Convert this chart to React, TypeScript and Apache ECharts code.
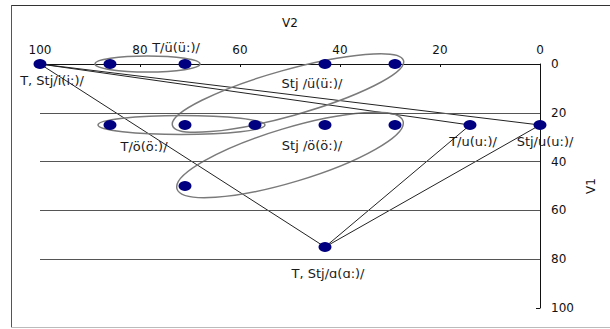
import React, { useEffect, useRef } from "react";
import * as echarts from "echarts";

// ---- data ----
const v2Ticks = [0, 20, 40, 60, 80, 100];
const v1Ticks = [0, 20, 40, 60, 80, 100];
const gridV1 = [20, 40, 60, 80];

const pointV2 = [100, 86, 71, 43, 29, 86, 71, 57, 43, 29, 14, 0, 71, 43];
const pointV1 = [0, 0, 0, 0, 0, 25, 25, 25, 25, 25, 25, 25, 50, 75];
const pointLabels = [
  "T, Stj/i(i:)/", "", "T/ü(ü:)/", "Stj /ü(ü:)/", "",
  "", "T/ö(ö:)/", "", "Stj /ö(ö:)/", "", "T/u(u:)/", "Stj/u(u:)/",
  "", "T, Stj/ɑ(ɑ:)/",
];

// connecting path: a -> i -> u(T) -> a -> u(Stj) -> i
const lineV2 = [43, 100, 14, 43, 0, 100];
const lineV1 = [75, 0, 25, 75, 25, 0];

// group ellipses: ends of major axis [V2a, V1a, V2b, V1b]
const ellipseV2a = [89, 73.5, 88.4, 72.6];
const ellipseV1a = [0, 25.2, 25, 51.2];
const ellipseV2b = [68, 27.3, 55, 27.4];
const ellipseV1b = [0, -1.4, 25, 23.4];

// ---- styles ----
const ellipseMinorPx = [8, 23, 9.5, 27];
const labelPositions = ["bottom", "", "top", "bottom", "", "", "bottom", "", "bottom", "", "bottom", "bottom", "", "bottom"];
const labelOffsets: number[][] = [
  [12, 0], [0, 0], [-9, 0], [-13, 3], [0, 0],
  [0, 0], [-41, 5], [0, 0], [-13, 4], [0, 0], [3, 0], [5, 0],
  [0, 0], [3, 10],
];
const FONT = "DejaVu Sans";

export default function App() {
  const ref = useRef<HTMLDivElement>(null);
  useEffect(() => {
    const chart = echarts.init(ref.current!, null, { renderer: "svg" });
    const scatterData = pointV2.map((x, i) => ({
      value: [x, pointV1[i]],
      label: pointLabels[i]
        ? {
            show: true,
            formatter: pointLabels[i],
            position: labelPositions[i] as any,
            offset: labelOffsets[i],
            distance: 5,
            color: "#1a1a1a",
            fontSize: 13,
            fontFamily: FONT,
          }
        : { show: false },
    }));
    const ellipseData = ellipseV2a.map((v, i) => [v, ellipseV1a[i], ellipseV2b[i], ellipseV1b[i]]);
    const option: any = {
      animation: false,
      backgroundColor: "#ffffff",
      textStyle: { fontFamily: FONT },
      grid: { left: 40, top: 64, width: 500, height: 244, containLabel: false },
      xAxis: {
        type: "value",
        position: "top",
        inverse: true,
        min: v2Ticks[0],
        max: v2Ticks[v2Ticks.length - 1],
        interval: 20,
        name: "V2",
        nameLocation: "middle",
        nameGap: 35,
        nameTextStyle: { fontSize: 12, color: "#111", fontFamily: FONT },
        axisLine: { show: true, onZero: false, lineStyle: { color: "#111", width: 1 } },
        axisTick: { show: true, inside: true, length: 3, lineStyle: { color: "#111" } },
        axisLabel: { margin: 8, fontSize: 12, color: "#111", fontFamily: FONT },
        splitLine: { show: false },
      },
      yAxis: {
        type: "value",
        position: "right",
        inverse: true,
        min: v1Ticks[0],
        max: v1Ticks[v1Ticks.length - 1],
        interval: 20,
        name: "V1",
        nameLocation: "middle",
        nameGap: 42,
        nameTextStyle: { fontSize: 12, color: "#111", fontFamily: FONT },
        axisLine: { show: true, onZero: false, lineStyle: { color: "#111", width: 1 } },
        axisTick: { show: true, inside: true, length: 4, lineStyle: { color: "#111" } },
        axisLabel: { margin: 11, fontSize: 12, color: "#111", fontFamily: FONT },
        splitLine: { show: false },
      },
      graphic: [
        { type: "line", shape: { x1: 11, y1: 5.5, x2: 610, y2: 5.5 }, style: { stroke: "#333", lineWidth: 1 } },
        { type: "line", shape: { x1: 11.5, y1: 5, x2: 11.5, y2: 328 }, style: { stroke: "#555", lineWidth: 1 } },
        { type: "line", shape: { x1: 11, y1: 327.5, x2: 610, y2: 327.5 }, style: { stroke: "#bbb", lineWidth: 1 } },
      ],
      series: [
        {
          type: "line",
          data: lineV2.map((x, i) => [x, lineV1[i]]),
          symbol: "none",
          clip: false,
          silent: true,
          lineStyle: { color: "#222", width: 1 },
          markLine: {
            silent: true,
            symbol: ["none", "none"],
            label: { show: false },
            lineStyle: { type: "solid", color: "#555", width: 1 },
            data: gridV1.map((v) => ({ yAxis: v })),
          },
          z: 2,
        },
        {
          type: "custom",
          clip: false,
          silent: true,
          data: ellipseData,
          renderItem: (params: any, api: any) => {
            const a = api.coord([api.value(0), api.value(1)]);
            const b = api.coord([api.value(2), api.value(3)]);
            const cx = (a[0] + b[0]) / 2;
            const cy = (a[1] + b[1]) / 2;
            const dx = b[0] - a[0];
            const dy = b[1] - a[1];
            const rx = Math.hypot(dx, dy) / 2;
            const ang = Math.atan2(dy, dx);
            return {
              type: "ellipse",
              x: cx,
              y: cy,
              rotation: -ang,
              shape: { cx: 0, cy: 0, rx, ry: ellipseMinorPx[params.dataIndex] },
              style: { fill: "none", stroke: "#7a7a7a", lineWidth: 1.5 },
            };
          },
          z: 3,
        },
        {
          type: "scatter",
          clip: false,
          silent: true,
          symbol: "circle",
          symbolSize: [13, 10],
          itemStyle: { color: "#000080", opacity: 1 },
          data: scatterData,
          z: 4,
        },
      ],
    };
    chart.setOption(option);
    return () => chart.dispose();
  }, []);
  return (
    <div
      ref={ref}
      style={{ position: "fixed", left: 0, top: 0, width: 610, height: 329, background: "#fff" }}
    />
  );
}
